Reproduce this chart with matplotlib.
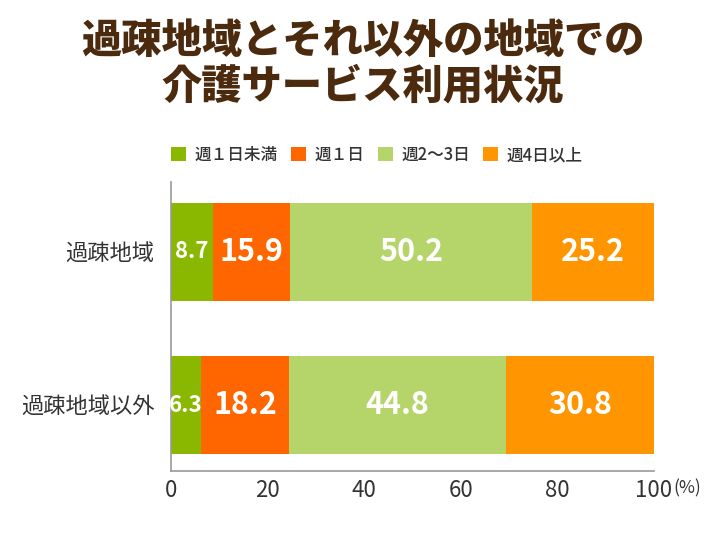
import matplotlib
matplotlib.use("Agg")
import matplotlib.pyplot as plt
from matplotlib.patches import Patch

plt.rcParams['font.family'] = ['Noto Sans CJK JP', 'DejaVu Sans']

regions = ["過疎地域", "過疎地域以外"]
freq_labels = ["週１日未満", "週１日", "週2～3日", "週4日以上"]
values = [
    [8.7, 6.3],
    [15.9, 18.2],
    [50.2, 44.8],
    [25.2, 30.8],
]
colors = ["#8AB800", "#FF6600", "#B5D56A", "#FF9500"]
x_ticks = [0, 20, 40, 60, 80, 100]

fig = plt.figure(figsize=(7.26, 5.45), dpi=100)
ax = fig.add_axes([171/726, 1-471/545, (654-171)/726, (471-182)/545])

y = list(range(len(regions)))
left = [0, 0]
for vals, col in zip(values, colors):
    ax.barh(y, vals, left=left, height=0.64, color=col, edgecolor='none')
    for yi, v, l in zip(y, vals, left):
        fs = 22 if v >= 10 else 16
        ax.text(l + v / 2, yi, f"{v:.1f}", ha='center', va='center',
                color='white', fontsize=fs, fontweight='bold')
    left = [a + b for a, b in zip(left, vals)]

ax.set_xlim(0, 100)
ax.set_ylim(1.431, -0.457)
ax.set_yticks(y)
ax.set_yticklabels(regions, fontsize=16, color='#333333')
ax.set_xticks(x_ticks)
ax.set_xticklabels([str(t) for t in x_ticks], fontsize=16, color='#333333')
ax.tick_params(length=0)
ax.tick_params(axis='x', pad=6)
ax.tick_params(axis='y', pad=12)
for s in ['top', 'right']:
    ax.spines[s].set_visible(False)
for s in ['left', 'bottom']:
    ax.spines[s].set_color('#999999')
    ax.spines[s].set_linewidth(1.2)

fig.text(673/726, 1-488/545, "(%)", fontsize=12.5, color='#333333', va='center', ha='left')

fig.text(0.5, 1-41/545, "過疎地域とそれ以外の地域での", ha='center', va='center',
         fontsize=29, fontweight='heavy', color='#4B2A0E')
fig.text(0.5, 1-87/545, "介護サービス利用状況", ha='center', va='center',
         fontsize=29, fontweight='heavy', color='#4B2A0E')

handles = [Patch(facecolor=c, edgecolor='none') for c in colors]
fig.legend(handles, freq_labels, loc='center', bbox_to_anchor=(377/726, 1-155/545),
           ncol=4, frameon=False, prop={'size': 12, 'weight': 'medium'},
           handlelength=0.9, handleheight=0.9,
           handletextpad=0.5, columnspacing=0.8, labelcolor='#333333')

fig.savefig("out.png", dpi=100)
